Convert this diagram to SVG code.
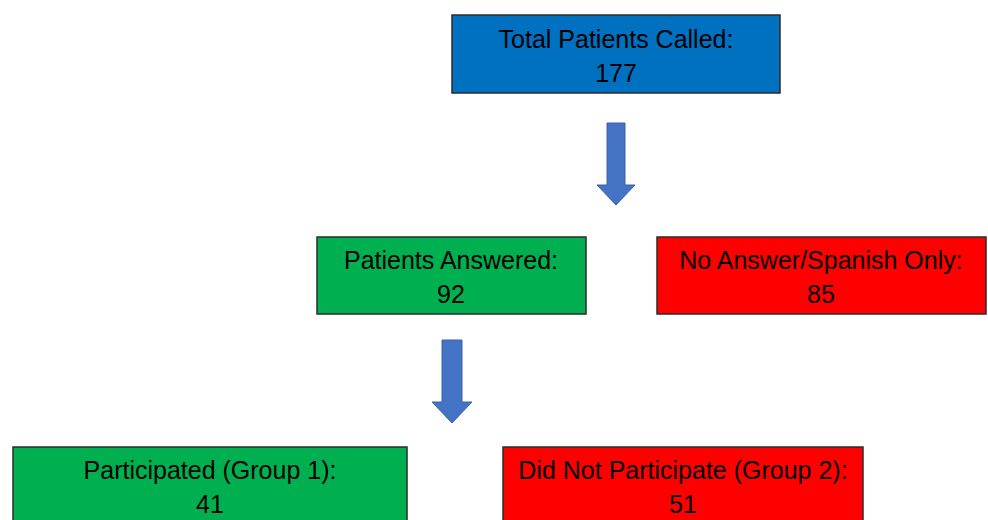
<svg xmlns="http://www.w3.org/2000/svg" width="988" height="520" viewBox="0 0 988 520">
<style>
.box{stroke:#2b2b2b;stroke-width:1.5}
.blue{fill:#0070C0}
.green{fill:#00B050}
.red{fill:#FF0000}
.t{font-family:"Liberation Sans",Arial,sans-serif;font-size:25px;fill:#000;text-anchor:middle}
.arrow{fill:#4472C4;stroke:#3a63ad;stroke-width:1}
</style>
<rect width="988" height="520" fill="#fff"/>
<g id="total">
<rect class="box blue" x="452" y="15" width="328" height="78"/>
<text class="t" x="616" y="48">Total Patients Called:</text>
<text class="t" x="616" y="82">177</text>
</g>
<g id="answered">
<rect class="box green" x="317" y="237" width="269" height="77"/>
<text class="t" x="451" y="269">Patients Answered:</text>
<text class="t" x="451" y="303">92</text>
</g>
<g id="noanswer">
<rect class="box red" x="657" y="237" width="329" height="77"/>
<text class="t" x="821" y="269">No Answer/Spanish Only:</text>
<text class="t" x="821" y="303">85</text>
</g>
<g id="participated">
<rect class="box green" x="13" y="447" width="394" height="80"/>
<text class="t" x="210" y="479">Participated (Group 1):</text>
<text class="t" x="210" y="513">41</text>
</g>
<g id="notparticipated">
<rect class="box red" x="503" y="447" width="360" height="80"/>
<text class="t" x="683" y="479">Did Not Participate (Group 2):</text>
<text class="t" x="683" y="513">51</text>
</g>
<g id="connectors">
<polygon class="arrow" points="607,123 625,123 625,185 635,185 616,205 597,185 607,185"/>
<polygon class="arrow" points="442,340 462,340 462,402 472,402 452,423 432,402 442,402"/>
</g>
</svg>
